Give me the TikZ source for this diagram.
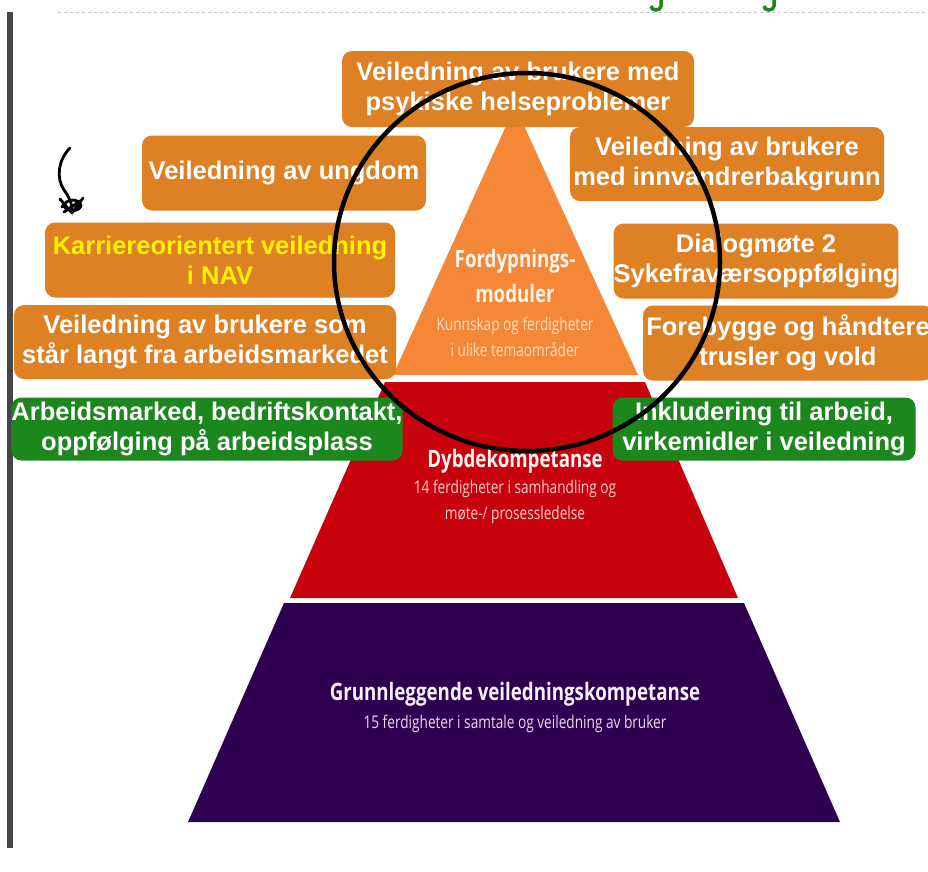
\documentclass[tikz,border=0pt]{standalone}
\usepackage{fontspec}
\setmainfont{Liberation Sans}
\newfontfamily\pyrfont[FakeStretch=0.78]{Open Sans}
\usetikzlibrary{positioning}
\definecolor{boxorange}{RGB}{222,128,36}
\definecolor{boxgreen}{RGB}{28,135,30}
\definecolor{navyellow}{RGB}{255,242,0}
\definecolor{pyrorange}{RGB}{245,136,56}
\definecolor{pyrred}{RGB}{200,2,12}
\definecolor{pyrpurple}{RGB}{46,0,80}
\definecolor{barkgray}{RGB}{70,70,72}

\tikzset{
  modbox/.style={fill=boxorange, rounded corners=10pt, text=white, align=center,
    inner sep=0pt, font=\bfseries\fontsize{25.5}{30}\selectfont},
  greenbox/.style={modbox, fill=boxgreen},
  pyrtitle/.style={align=center, inner sep=0pt, font=\pyrfont\bfseries\fontsize{24}{35}\selectfont},
  pyrsub/.style={align=center, inner sep=0pt, font=\pyrfont\fontsize{17.5}{26}\selectfont}
}

\begin{document}
\begin{tikzpicture}[x=1pt,y=-1pt]
    \useasboundingbox (0,0) rectangle (928,871);
    % page edge and header
    \fill[barkgray] (7,12) rectangle (13,848);
    \draw[gray!45, dashed, line width=1pt] (58,12) -- (928,12);
    \draw[boxgreen, line width=3.5pt] (661,0) -- (661,6) arc[start angle=0, end angle=180, x radius=5, y radius=4];
    \draw[boxgreen, line width=3.5pt] (774,0) -- (774,6) arc[start angle=0, end angle=180, x radius=5, y radius=4];

    % pyramid
    \fill[pyrorange] (515,106) -- (638,375) -- (393,375) -- cycle;
    \fill[pyrred] (385,382) -- (645,382) -- (738,598) -- (290,598) -- cycle;
    \fill[pyrpurple] (284,603) -- (744,603) -- (840,822) -- (188,822) -- cycle;
    \node[pyrtitle, text=orange!8] (fordyp) at (515,276) {Fordypnings-\\moduler};
    \node[pyrsub, text=orange!25] (fordypsub) at (515,337) {Kunnskap og ferdigheter\\i ulike temaområder};
    \node[pyrtitle, text=red!5] (dybde) at (515,461) {Dybdekompetanse};
    \node[pyrsub, text=red!20] (dybdesub) at (515,502) {14 ferdigheter i samhandling og\\møte-/ prosessledelse};
    \node[pyrtitle, text=violet!5] (grunn) at (515,694) {Grunnleggende veiledningskompetanse};
    \node[pyrsub, text=violet!15] (grunnsub) at (515,724) {15 ferdigheter i samtale og veiledning av bruker};

    % modules round the top
    \node[modbox, minimum width=352pt, minimum height=76pt] (psykisk) at (518,89)
      {Veiledning av brukere med\\psykiske helseproblemer};
    \node[modbox, minimum width=284pt, minimum height=75pt] (ungdom) at (284,173)
      {Veiledning av ungdom};
    \node[modbox, minimum width=314pt, minimum height=74pt] (innvandrer) at (727,164)
      {Veiledning av brukere\\med innvandrerbakgrunn};
    \node[modbox, text=navyellow, minimum width=350pt, minimum height=75pt] (karriere) at (220,260)
      {Karriereorientert veiledning\\i NAV};
    \node[modbox, minimum width=284pt, minimum height=75pt] (dialog) at (756,261)
      {Dialogmøte 2\\Sykefraværsoppfølging};
    \node[modbox, minimum width=382pt, minimum height=74pt] (langt) at (205,342)
      {Veiledning av brukere som\\står langt fra arbeidsmarkedet};
    \node[modbox, minimum width=290pt, minimum height=75pt] (trusler) at (788,343)
      {Forebygge og håndtere\\trusler og vold};
    \node[greenbox, minimum width=386pt, minimum height=63pt] (arbmarked) at (207,429)
      {Arbeidsmarked, bedriftskontakt,\\oppfølging på arbeidsplass};
    \node[greenbox, minimum width=303pt, minimum height=63pt] (inkludering) at (764,429)
      {Inkludering til arbeid,\\virkemidler i veiledning};

    % hand drawn marks
    \draw[line width=4.5pt] (527,262) ellipse[x radius=193, y radius=189];
    \draw[line width=2.8pt, line cap=round, line join=round]
      (70,148) .. controls (58,160) and (56,178) .. (64,190)
      .. controls (69,197) and (72,202) .. (72,212);
    \draw[line width=2.8pt, line cap=round, line join=round]
      (60,199) -- (72,213) -- (83,198)
      (62,207) .. controls (66,198) and (80,198) .. (81,206) .. controls (78,213) and (65,212) .. (63,204)
      (64,212) -- (80,201);
\end{tikzpicture}
\end{document}
